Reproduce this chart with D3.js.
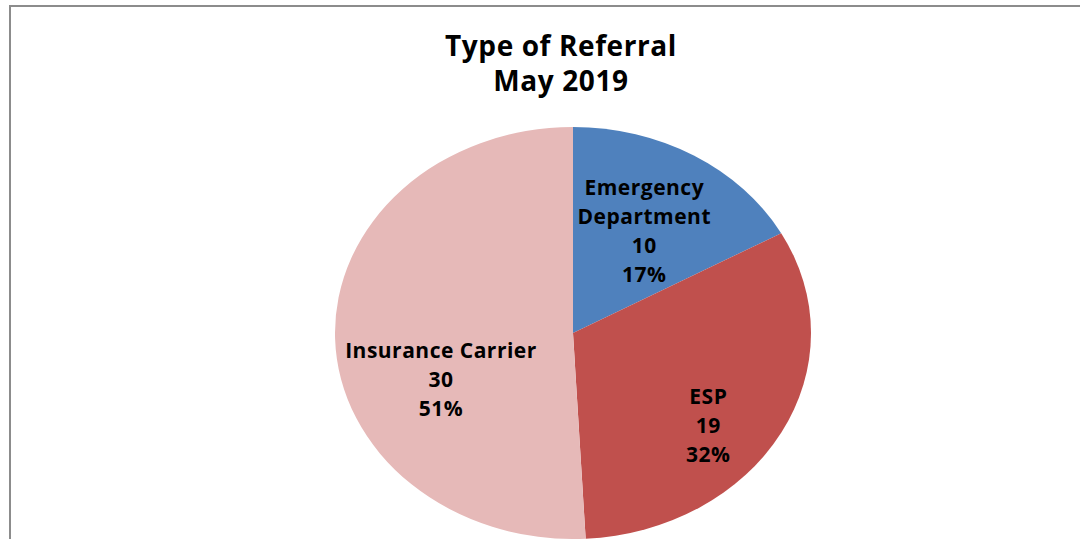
<!DOCTYPE html>
<html>
<head>
<meta charset="utf-8">
<script src="https://cdn.jsdelivr.net/npm/d3@7"></script>
<style>
  html, body { margin: 0; padding: 0; background: #fff; }
  svg { display: block; }
  text { font-family: "Open Sans", Lato, sans-serif; font-weight: bold; fill: #000; }
</style>
</head>
<body>
<svg id="chart" width="1080" height="539"></svg>
<script>
const categories = ["Emergency Department", "ESP", "Insurance Carrier"];
const labelLines = [["Emergency", "Department"], ["ESP"], ["Insurance Carrier"]];
const values = [10, 19, 30];
const percents = ["17%", "32%", "51%"];
const colors = ["#4F81BD", "#C0504D", "#E6B9B8"];
const titleLines = ["Type of Referral", "May 2019"];

const W = 1080, H = 539;
const svg = d3.select("#chart");

// frame
svg.append("rect").attr("x", 10).attr("y", 6).attr("width", 1090).attr("height", 600)
  .attr("fill", "none").attr("stroke", "#8c8c8c").attr("stroke-width", 2);

// title
const title = svg.append("text").attr("text-anchor", "middle").attr("font-size", 28)
  .attr("letter-spacing", 0.6);
titleLines.forEach((t, i) => {
  title.append("tspan").attr("x", 561).attr("y", 56 + i * 35).text(t);
});

// pie (elliptical, as in the reference)
const cx = 573, cy = 333, rx = 238, ry = 206;
const pie = d3.pie().sort(null).value(d => d)(values);
const arc = d3.arc().innerRadius(0).outerRadius(ry);
const g = svg.append("g").attr("transform", `translate(${cx},${cy})`);
g.append("g").attr("transform", `scale(${rx / ry},1)`)
  .selectAll("path").data(pie).join("path")
  .attr("d", arc).attr("fill", (d, i) => colors[i]);

// labels: placed along each slice's mid-angle at a fraction of the radius
const labelFrac = [0.59, 0.65, 0.555];
const labelShift = [3, 28, 44];
const lineH = 29;
pie.forEach((d, i) => {
  const a = (d.startAngle + d.endAngle) / 2;
  const lx = Math.sin(a) * rx * labelFrac[i];
  const ly = -Math.cos(a) * ry * labelFrac[i] + labelShift[i];
  const lines = [...labelLines[i], String(values[i]), percents[i]];
  const t = g.append("text").attr("text-anchor", "middle").attr("font-size", 21)
    .attr("letter-spacing", 0.5);
  const y0 = ly - (lines.length - 1) * lineH / 2;
  lines.forEach((s, k) => {
    t.append("tspan").attr("x", lx).attr("y", y0 + k * lineH).attr("dy", "0.35em").text(s);
  });
});
</script>
</body>
</html>
